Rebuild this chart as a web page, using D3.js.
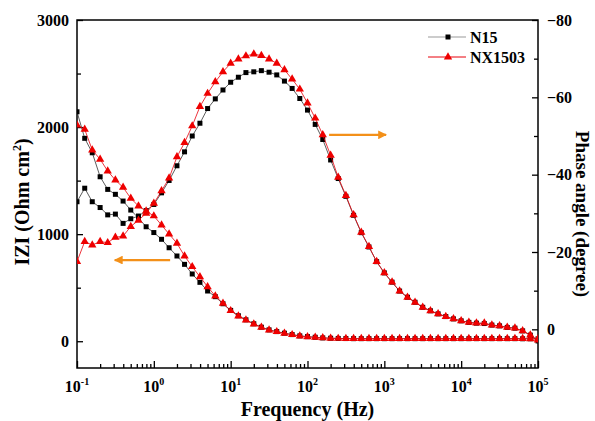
<!DOCTYPE html>
<html>
<head>
<meta charset="utf-8">
<script src="https://cdn.jsdelivr.net/npm/d3@7"></script>
<style>
body { margin: 0; background: #fff; }
svg text { font-family: "Liberation Serif", "Times New Roman", serif; font-weight: bold; fill: #000; }
</style>
</head>
<body>
<svg id="chart" width="595" height="421"></svg>
<script>
// frequency (Hz), 10 points per decade
var freq = [
    0.1, 0.126, 0.158, 0.2, 0.251, 0.316, 0.398, 0.501, 0.631, 0.794,
    1, 1.26, 1.58, 2, 2.51, 3.16, 3.98, 5.01, 6.31, 7.94,
    10, 12.6, 15.8, 20, 25.1, 31.6, 39.8, 50.1, 63.1, 79.4,
    100, 126, 158, 200, 251, 316, 398, 501, 631, 794,
    1000, 1260, 1580, 2000, 2510, 3160, 3980, 5010, 6310, 7940,
    10000, 12600, 15800, 20000, 25100, 31600, 39800, 50100, 63100, 79400,
    100000
];

// |Z| (Ohm cm2)
var zN15 = [
    2143, 1895, 1760, 1536, 1418, 1372, 1309, 1225, 1150, 1069,
    1015, 952, 873, 796, 718, 628, 550, 469, 416, 350,
    288, 238, 200, 163, 131, 106, 90, 75, 62, 50,
    43, 37, 31, 28, 26, 25, 24, 24, 24, 24,
    24, 24, 24, 24, 24, 24, 24, 24, 24, 24,
    24, 24, 24, 24, 24, 24, 24, 24, 23, 23, 22
];
var zNX1503 = [
    2019, 1979, 1786, 1699, 1589, 1505, 1437, 1335, 1263, 1215,
    1170, 1085, 1001, 914, 796, 696, 602, 509, 422, 354,
    285, 235, 198, 161, 130, 105, 89, 74, 61, 49,
    42, 36, 31, 28, 26, 25, 25, 24, 24, 24,
    24, 24, 24, 24, 24, 24, 24, 24, 24, 24,
    24, 24, 24, 24, 24, 24, 24, 24, 24, 23, 23
];

// phase angle (degree)
var phN15 = [
    -33.0, -36.5, -33.0, -31.5, -29.6, -29.8, -27.4, -28.6, -29.3, -30.7,
    -32.3, -35.3, -38.5, -42.3, -45.9, -50.0, -53.3, -57.1, -59.6, -61.9,
    -63.9, -65.2, -66.4, -66.6, -66.9, -66.5, -65.8, -64.2, -62.3, -59.7,
    -56.7, -53.0, -49.1, -43.8, -39.0, -34.4, -29.5, -25.0, -21.3, -17.5,
    -14.6, -12.2, -9.9, -8.3, -7.0, -5.7, -4.8, -4.0, -3.3, -2.7,
    -2.2, -1.8, -1.6, -1.5, -1.1, -0.9, -0.5, -0.3, 0.4, 1.5, 3.0
];
var phNX1503 = [
    -17.5, -22.7, -21.8, -22.7, -22.4, -23.8, -24.1, -26.6, -28.2, -30.0,
    -32.6, -35.8, -39.1, -44.6, -48.3, -52.6, -57.6, -61.0, -64.0, -66.6,
    -68.8, -69.9, -70.7, -71.2, -70.8, -69.9, -68.8, -67.1, -64.7, -62.1,
    -58.5, -54.6, -50.3, -45.0, -39.3, -34.6, -29.6, -25.1, -21.4, -17.5,
    -14.6, -12.2, -9.9, -8.3, -7.0, -5.7, -4.8, -4.0, -3.3, -2.7,
    -2.2, -1.8, -1.6, -1.6, -1.1, -0.9, -0.5, -0.3, 0.4, 1.5, 2.8
];

var seriesNames = ["N15", "NX1503"];
var xMajor = [0.1, 1, 10, 100, 1000, 10000, 100000];
var xExp = ["-1", "0", "1", "2", "3", "4", "5"];
var zTicks = [0, 1000, 2000, 3000];
var zMinor = [500, 1500, 2500];
var phTicks = [-80, -60, -40, -20, 0];
var phMinor = [-70, -50, -30, -10];

var margin = {top: 20, right: 57, bottom: 53, left: 77},
    width = 595 - margin.left - margin.right,
    height = 421 - margin.top - margin.bottom;

var svg = d3.select("#chart");
var g = svg.append("g").attr("transform", "translate(" + margin.left + "," + margin.top + ")");

var x = d3.scaleLog().domain([0.1, 100000]).range([0, width]);
var yZ = d3.scaleLinear().domain([-250, 3000]).range([height, 0]);
var yP = d3.scaleLinear().domain([10, -80]).range([height, 0]);

// minor x ticks 2..9 per decade
var xMinor = [];
xMajor.slice(0, -1).forEach(function (d) {
    for (var k = 2; k < 10; k++) xMinor.push(d * k);
});

function styleAxis(sel) {
    sel.select(".domain").remove();
    sel.selectAll("line").attr("stroke", "#000").attr("stroke-width", 1.3);
    sel.selectAll("text").style("font-size", "16px");
}

// bottom axis
g.append("g").attr("transform", "translate(0," + height + ")")
    .call(d3.axisBottom(x).tickValues(xMajor).tickSize(-7).tickFormat(""))
    .call(styleAxis);
g.append("g").attr("transform", "translate(0," + height + ")")
    .call(d3.axisBottom(x).tickValues(xMinor).tickSize(-4).tickFormat(""))
    .call(styleAxis);

var xl = g.append("g").selectAll("text").data(xMajor).enter().append("text")
    .attr("x", function (d) { return x(d); })
    .attr("y", height + 24)
    .attr("text-anchor", "middle")
    .style("font-size", "16px");
xl.append("tspan").text("10");
xl.append("tspan").attr("dy", -7).style("font-size", "10px")
    .text(function (d, i) { return xExp[i]; });

// left axis
g.append("g")
    .call(d3.axisLeft(yZ).tickValues(zTicks).tickSize(-6).tickPadding(8).tickFormat(d3.format("d")))
    .call(styleAxis);
g.append("g")
    .call(d3.axisLeft(yZ).tickValues(zMinor).tickSize(-4).tickFormat(""))
    .call(styleAxis);

// right axis
g.append("g").attr("transform", "translate(" + width + ",0)")
    .call(d3.axisRight(yP).tickValues(phTicks).tickSize(-6).tickPadding(9).tickFormat(d3.format("d")))
    .call(styleAxis);
g.append("g").attr("transform", "translate(" + width + ",0)")
    .call(d3.axisRight(yP).tickValues(phMinor).tickSize(-4).tickFormat(""))
    .call(styleAxis);

// frame
g.append("rect").attr("width", width).attr("height", height)
    .attr("fill", "none").attr("stroke", "#000").attr("stroke-width", 1.5);

// data
g.append("clipPath").attr("id", "clip").append("rect")
    .attr("width", width).attr("height", height);
var plot = g.append("g").attr("clip-path", "url(#clip)");

var sq = d3.symbol().type(d3.symbolSquare).size(25);
var tri = d3.symbol().type(d3.symbolTriangle).size(30);

function drawSeries(vals, yScale, lineColor, markColor, sym) {
    var pts = freq.map(function (f, i) { return [x(f), yScale(vals[i])]; });
    plot.append("path")
        .attr("d", d3.line()(pts))
        .attr("fill", "none")
        .attr("stroke", lineColor)
        .attr("stroke-width", 0.8);
    plot.append("g").selectAll("path").data(pts).enter().append("path")
        .attr("d", sym)
        .attr("transform", function (d) { return "translate(" + d[0] + "," + d[1] + ")"; })
        .attr("fill", markColor);
}

drawSeries(zN15, yZ, "#333", "#000", sq);
drawSeries(phN15, yP, "#333", "#000", sq);
drawSeries(zNX1503, yZ, "#e8000b", "#ee0000", tri);
drawSeries(phNX1503, yP, "#e8000b", "#ee0000", tri);

// arrows
svg.append("defs").append("marker")
    .attr("id", "head").attr("viewBox", "0 0 10 10")
    .attr("refX", 9).attr("refY", 5)
    .attr("markerWidth", 4).attr("markerHeight", 4)
    .attr("orient", "auto")
    .append("path").attr("d", "M0,0L10,5L0,10z").attr("fill", "#f39019");

g.append("line")
    .attr("x1", x(1.63)).attr("x2", x(0.31))
    .attr("y1", yZ(758)).attr("y2", yZ(758))
    .attr("stroke", "#f39019").attr("stroke-width", 2.2)
    .attr("marker-end", "url(#head)");
g.append("line")
    .attr("x1", x(191)).attr("x2", x(1054))
    .attr("y1", yP(-50.3)).attr("y2", yP(-50.3))
    .attr("stroke", "#f39019").attr("stroke-width", 2.2)
    .attr("marker-end", "url(#head)");

// legend
var leg = g.append("g").attr("transform", "translate(351,17)");
var legLine = ["#999", "#e8000b"], legMark = ["#000", "#ee0000"], legSym = [sq, tri];
seriesNames.forEach(function (name, i) {
    var row = leg.append("g").attr("transform", "translate(0," + i * 20 + ")");
    row.append("line").attr("x1", 0).attr("x2", 38).attr("y1", 0).attr("y2", 0)
        .attr("stroke", legLine[i]).attr("stroke-width", 1);
    row.append("path").attr("d", legSym[i]).attr("transform", "translate(20,0)")
        .attr("fill", legMark[i]);
    row.append("text").attr("x", 42).attr("y", 0).attr("dy", "0.35em")
        .style("font-size", "16px").text(name);
});

// axis titles
svg.append("text")
    .attr("x", margin.left + width / 2).attr("y", 416)
    .attr("text-anchor", "middle").style("font-size", "20px")
    .text("Frequency (Hz)");

var lt = svg.append("text")
    .attr("transform", "translate(22,202) rotate(-90)")
    .attr("text-anchor", "middle").attr("dy", "0.35em").style("font-size", "20px");
lt.append("tspan").text("IZI (Ohm cm");
lt.append("tspan").attr("dy", -8).style("font-size", "12px").text("2");
lt.append("tspan").attr("dy", 8).text(")");

svg.append("text")
    .attr("transform", "translate(583,214) rotate(90)")
    .attr("text-anchor", "middle").attr("dy", "0.35em").style("font-size", "19px")
    .text("Phase angle (degree)");
</script>
</body>
</html>
